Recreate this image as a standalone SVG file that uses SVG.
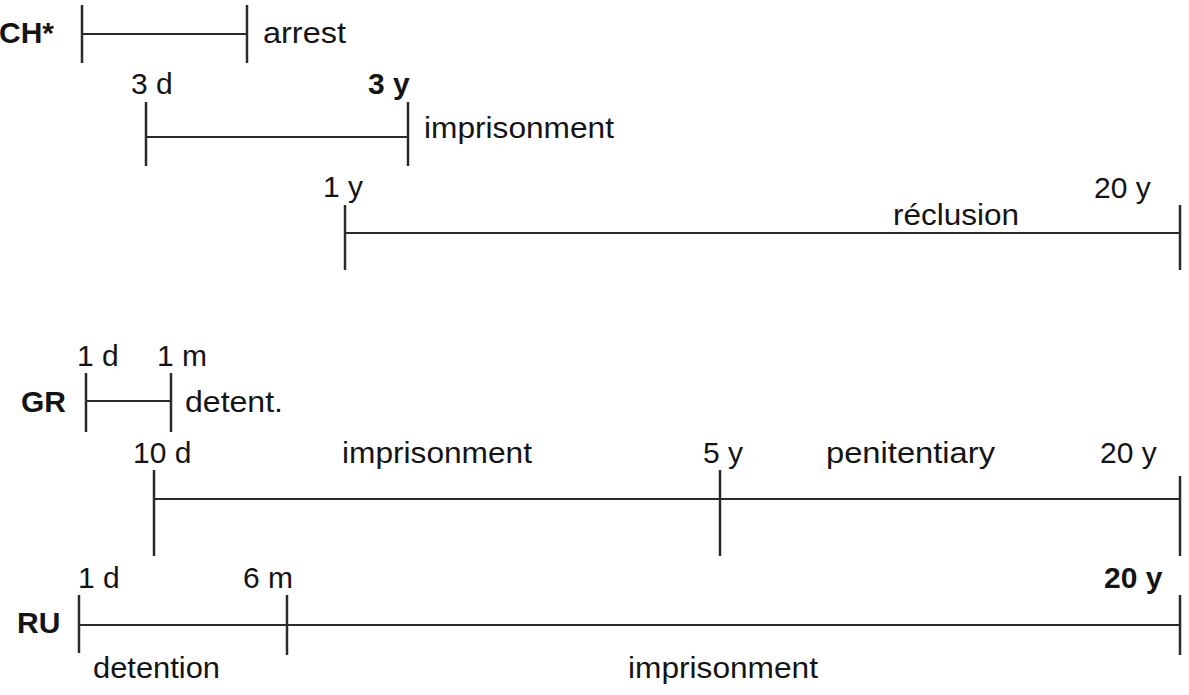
<svg xmlns="http://www.w3.org/2000/svg" width="1189" height="695" viewBox="0 0 1189 695">
<style>
text{font-family:"Liberation Sans",Arial,sans-serif;font-size:30px;fill:#141414}
.b{font-weight:bold}
line{stroke:#2a2a2a;stroke-width:2}
.t{stroke-width:2.5}
</style>
<rect width="1189" height="695" fill="#fff"/>
<g id="connectors">
<line x1="82" y1="34" x2="247" y2="34"/>
<line class="t" x1="82" y1="5" x2="82" y2="63"/>
<line class="t" x1="247" y1="5" x2="247" y2="63"/>
<line x1="146" y1="137" x2="408" y2="137"/>
<line class="t" x1="146" y1="102" x2="146" y2="166"/>
<line class="t" x1="408" y1="102" x2="408" y2="166"/>
<line x1="345" y1="233" x2="1180" y2="233"/>
<line class="t" x1="345" y1="205" x2="345" y2="270"/>
<line class="t" x1="1180" y1="205" x2="1180" y2="270"/>
<line x1="86" y1="401" x2="171" y2="401"/>
<line class="t" x1="86" y1="373" x2="86" y2="432"/>
<line class="t" x1="171" y1="373" x2="171" y2="432"/>
<line x1="154" y1="499" x2="1180" y2="499"/>
<line class="t" x1="154" y1="470" x2="154" y2="556"/>
<line class="t" x1="720" y1="470" x2="720" y2="556"/>
<line class="t" x1="1180" y1="476" x2="1180" y2="556"/>
<line x1="79" y1="625" x2="1180" y2="625"/>
<line class="t" x1="79" y1="595" x2="79" y2="653"/>
<line class="t" x1="287" y1="595" x2="287" y2="655"/>
<line class="t" x1="1180" y1="595" x2="1180" y2="655"/>
</g>
<g id="ch">
<text class="b" x="-1" y="43">CH*</text>
<text x="263" y="43" textLength="83" lengthAdjust="spacingAndGlyphs">arrest</text>
<text x="131" y="94">3 d</text>
<text class="b" x="368" y="94">3 y</text>
<text x="424" y="138" textLength="190" lengthAdjust="spacingAndGlyphs">imprisonment</text>
<text x="323" y="197">1 y</text>
<text x="1094" y="198">20 y</text>
<text x="893" y="225" textLength="126" lengthAdjust="spacingAndGlyphs">réclusion</text>
</g>
<g id="gr">
<text class="b" x="21" y="412">GR</text>
<text x="77" y="366">1 d</text>
<text x="157" y="366">1 m</text>
<text x="185" y="412" textLength="98" lengthAdjust="spacingAndGlyphs">detent.</text>
<text x="133" y="463">10 d</text>
<text x="342" y="463" textLength="190" lengthAdjust="spacingAndGlyphs">imprisonment</text>
<text x="703" y="463">5 y</text>
<text x="826" y="463" textLength="169" lengthAdjust="spacingAndGlyphs">penitentiary</text>
<text x="1100" y="463">20 y</text>
</g>
<g id="ru">
<text class="b" x="17" y="633">RU</text>
<text x="78" y="588">1 d</text>
<text x="243" y="588">6 m</text>
<text class="b" x="1104" y="588">20 y</text>
<text x="93" y="678" textLength="127" lengthAdjust="spacingAndGlyphs">detention</text>
<text x="628" y="678" textLength="190" lengthAdjust="spacingAndGlyphs">imprisonment</text>
</g>
</svg>
